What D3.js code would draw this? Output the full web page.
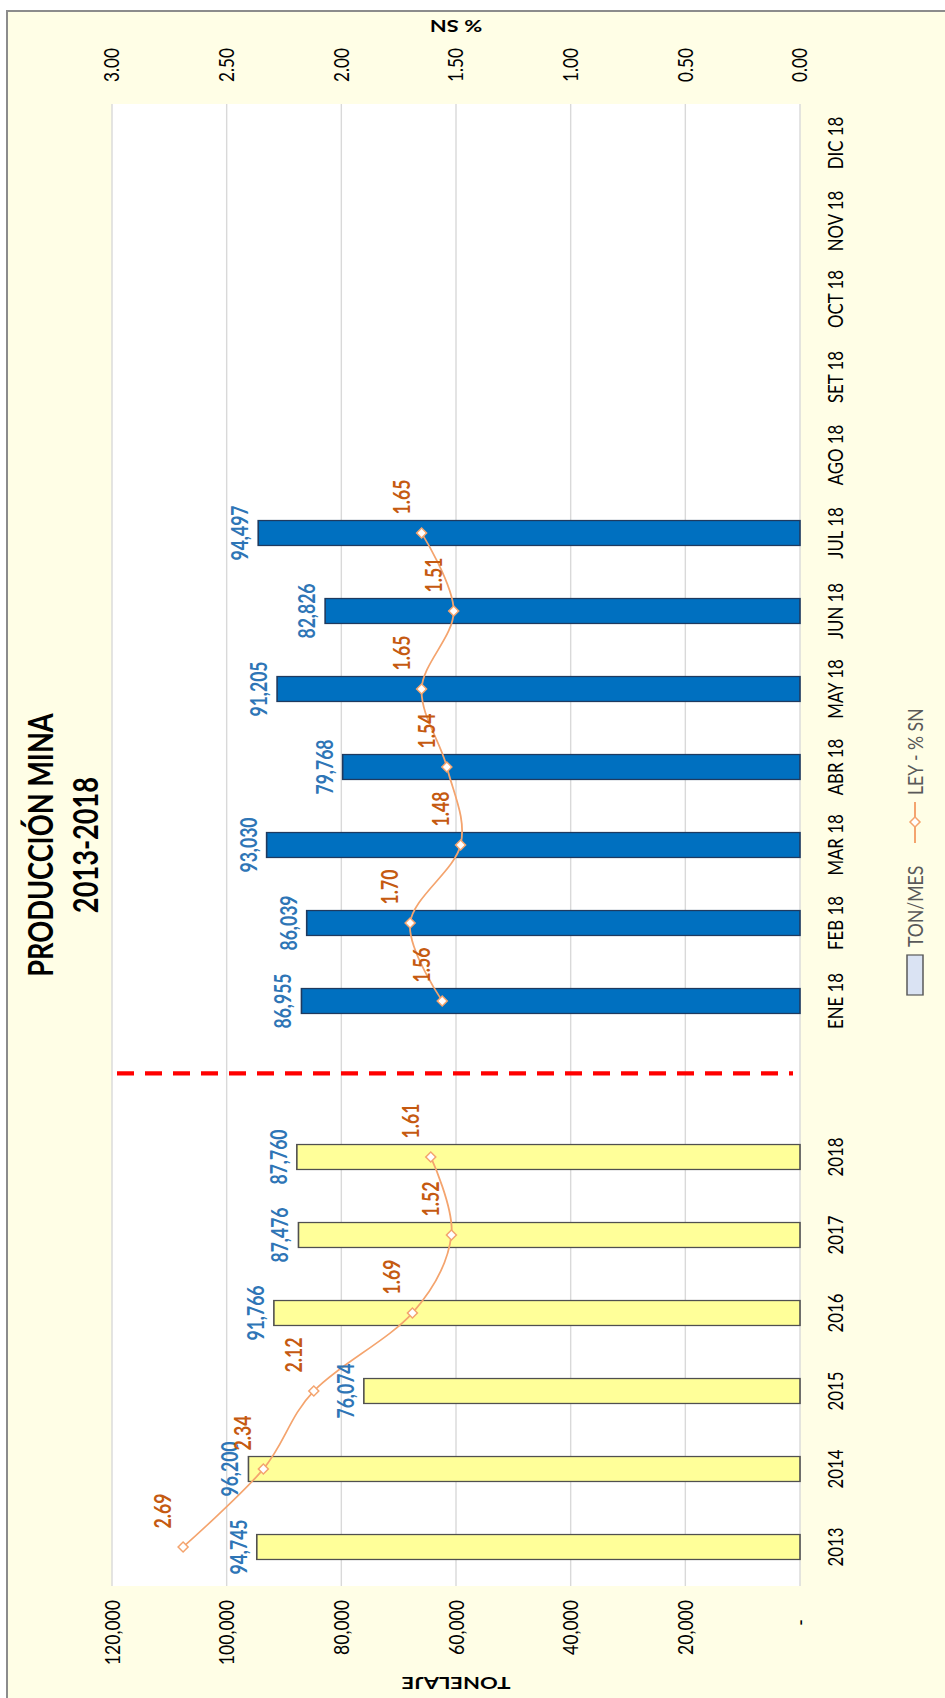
<!DOCTYPE html>
<html><head><meta charset="utf-8">
<script src="https://cdn.jsdelivr.net/npm/d3@7"></script>
<style>
html,body{margin:0;padding:0;background:#fff;}
svg{display:block;font-family:Lato,"Open Sans",sans-serif;}
</style>
</head><body>
<svg id="chart" width="945" height="1698"></svg>
<script>
// ---------------- DATA ----------------
const yearCats  = ["2013","2014","2015","2016","2017","2018"];
const yearTon   = [94745, 96200, 76074, 91766, 87476, 87760];
const yearLey   = [2.69, 2.34, 2.12, 1.69, 1.52, 1.61];
const monthCats = ["ENE 18","FEB 18","MAR 18","ABR 18","MAY 18","JUN 18","JUL 18","AGO 18","SET 18","OCT 18","NOV 18","DIC 18"];
const monthTon  = [86955, 86039, 93030, 79768, 91205, 82826, 94497, null, null, null, null, null];
const monthLey  = [1.56, 1.70, 1.48, 1.54, 1.65, 1.51, 1.65, null, null, null, null, null];
const tonTicks  = [0, 20000, 40000, 60000, 80000, 100000, 120000];
const leyTicks  = [0, 0.5, 1.0, 1.5, 2.0, 2.5, 3.0];
const titleLines   = ["PRODUCCIÓN MINA", "2013-2018"];
const leftTitle    = "TONELAJE";
const rightTitle   = "% SN";
const legendLabels = ["TON/MES", "LEY - % SN"];

// ---------------- BUILD ROWS ----------------
const rows = [];
yearCats.forEach((c,i)=>rows.push({key:c,label:c,ton:yearTon[i],ley:yearLey[i],group:"year"}));
rows.push({key:"__gap__",label:"",ton:null,ley:null,group:"gap"});
monthCats.forEach((c,i)=>rows.push({key:c,label:c,ton:monthTon[i],ley:monthLey[i],group:"month"}));

// ---------------- LAYOUT ----------------
const PAGE_H = 1698, K = 0.8;          // chart is drawn landscape, then rotated
const PX0 = 140, PX1 = 1992.5, PY0 = 112, PY1 = 800;
const C = {
  bg:"#FFFEE6", border:"#8C8C8C", grid:"#D9D9D9",
  yearFill:"#FFFF99", yearStroke:"#505050",
  monthFill:"#0070C0", monthStroke:"#1F3A5F",
  line:"#F4A46E", leyLab:"#C55A11", tonLab:"#2E75B6", text:"#000", legText:"#595959"
};

const svg = d3.select("#chart");
svg.append("rect").attr("x",7).attr("y",11).attr("width",1000).attr("height",1800)
  .attr("fill",C.bg).attr("stroke",C.border).attr("stroke-width",2);

const g = svg.append("g").attr("transform",`translate(0,${PAGE_H}) rotate(-90) scale(${K},1)`);

const x = d3.scaleBand().domain(rows.map(d=>d.key)).range([PX0,PX1]).paddingInner(0.68).paddingOuter(0.34);
const bw = x.bandwidth();
const cx = d => x(d.key) + bw/2;
const yTon = d3.scaleLinear().domain([0,120000]).range([PY1,PY0]);
const yLey = d3.scaleLinear().domain([0,3]).range([PY1,PY0]);

// plot area
g.append("rect").attr("x",PX0).attr("y",PY0).attr("width",PX1-PX0).attr("height",PY1-PY0).attr("fill","#fff");

// gridlines
g.append("g").selectAll("line").data(tonTicks).join("line")
  .attr("x1",PX0).attr("x2",PX1).attr("y1",d=>yTon(d)).attr("y2",d=>yTon(d))
  .attr("stroke",C.grid).attr("stroke-width",1.4);

// left axis
const fmtTon = d3.format(",");
const ax = g.append("g").attr("transform",`translate(${PX0},0)`)
  .call(d3.axisLeft(yTon).tickValues(tonTicks).tickSize(0).tickPadding(17.5)
        .tickFormat(d=>d===0?"-":fmtTon(d)));
ax.select(".domain").remove();
ax.selectAll("text").attr("font-size",22).attr("font-family","Lato").attr("fill",C.text)
  .attr("dx",d=>d===0?-24:0);

// right axis
const ar = g.append("g").attr("transform",`translate(${PX1},0)`)
  .call(d3.axisRight(yLey).tickValues(leyTicks).tickSize(0).tickPadding(27.5).tickFormat(d3.format(".2f")));
ar.select(".domain").remove();
ar.selectAll("text").attr("font-size",21.5).attr("font-family","Lato").attr("fill",C.text);

// category axis
const lab = new Map(rows.map(d=>[d.key,d.label]));
const ab = g.append("g").attr("transform",`translate(0,${PY1})`)
  .call(d3.axisBottom(x).tickSize(0).tickPadding(28).tickFormat(k=>lab.get(k)));
ab.select(".domain").remove();
ab.selectAll("text").attr("font-size",21).attr("font-family","Lato").attr("fill",C.text);

// bars
const barRows = rows.filter(d=>d.ton!=null);
g.append("g").selectAll("rect").data(barRows).join("rect")
  .attr("x",d=>x(d.key)).attr("width",bw)
  .attr("y",d=>yTon(d.ton)).attr("height",d=>yTon(0)-yTon(d.ton))
  .attr("fill",d=>d.group==="year"?C.yearFill:C.monthFill)
  .attr("stroke",d=>d.group==="year"?C.yearStroke:C.monthStroke)
  .attr("stroke-width",1.6);

// separator dashed line at the gap category
const gapRow = rows.find(d=>d.group==="gap");
g.append("line").attr("x1",cx(gapRow)+7).attr("x2",cx(gapRow)+7)
  .attr("y1",yTon(120000)+5).attr("y2",yTon(0)-7)
  .attr("stroke","#FF0000").attr("stroke-width",5.5).attr("stroke-dasharray","17,11");

// ley line
const line = d3.line().defined(d=>d.ley!=null).x(cx).y(d=>yLey(d.ley)).curve(d3.curveCardinal.tension(0));
g.append("path").datum(rows).attr("d",line).attr("fill","none").attr("stroke",C.line).attr("stroke-width",1.8);

// markers
const diamond = d3.symbol(d3.symbolSquare, 50);
const leyRows = rows.filter(d=>d.ley!=null);
g.append("g").selectAll("path").data(leyRows).join("path")
  .attr("d",diamond)
  .attr("transform",d=>`translate(${cx(d)},${yLey(d.ley)}) scale(1.25,1) rotate(45)`)
  .attr("fill","#fff").attr("stroke",C.line).attr("stroke-width",1.5);

// ton labels
g.append("g").selectAll("text").data(barRows).join("text")
  .attr("x",cx).attr("y",d=>yTon(d.ton)-10).attr("text-anchor","middle")
  .attr("font-size",22).attr("font-weight","bold").attr("fill",C.tonLab)
  .text(d=>fmtTon(d.ton));

// ley labels
const fmtLey = d3.format(".2f");
g.append("g").selectAll("text").data(leyRows).join("text")
  .attr("x",d=>cx(d)+45).attr("y",d=>yLey(d.ley)-12).attr("text-anchor","middle")
  .attr("font-size",22).attr("font-weight","bold").attr("fill",C.leyLab)
  .text(d=>fmtLey(d.ley));

// title
const tcx = (PX0+PX1)/2;
g.append("g").selectAll("text").data(titleLines).join("text")
  .attr("x",tcx).attr("y",(d,i)=>53+i*45).attr("text-anchor","middle")
  .attr("font-size",34).attr("font-weight","bold").attr("fill",C.text).text(d=>d);

// axis titles
g.append("text").attr("transform",`translate(26,${(PY0+PY1)/2}) rotate(-90)`)
  .attr("text-anchor","middle").attr("font-size",22).attr("font-weight","bold").attr("fill",C.text).text(leftTitle);
g.append("text").attr("transform",`translate(2097,${(PY0+PY1)/2}) rotate(-90)`)
  .attr("text-anchor","middle").attr("font-size",22).attr("font-weight","bold").attr("fill",C.text).text(rightTitle);

// legend
const lg = g.append("g");
lg.append("rect").attr("x",878.75).attr("y",907).attr("width",50).attr("height",16)
  .attr("fill","#DAE3F3").attr("stroke","#595959").attr("stroke-width",1.5);
lg.append("text").attr("x",938.75).attr("y",923).attr("font-size",22).attr("fill",C.legText).text(legendLabels[0]);
lg.append("line").attr("x1",1068.75).attr("x2",1120).attr("y1",915).attr("y2",915)
  .attr("stroke",C.line).attr("stroke-width",2);
lg.append("path").attr("d",diamond).attr("transform","translate(1095,915) scale(1.25,1) rotate(45)")
  .attr("fill","#fff").attr("stroke",C.line).attr("stroke-width",1.5);
lg.append("text").attr("x",1128.75).attr("y",923).attr("font-size",22).attr("fill",C.legText).text(legendLabels[1]);
</script>
</body></html>
